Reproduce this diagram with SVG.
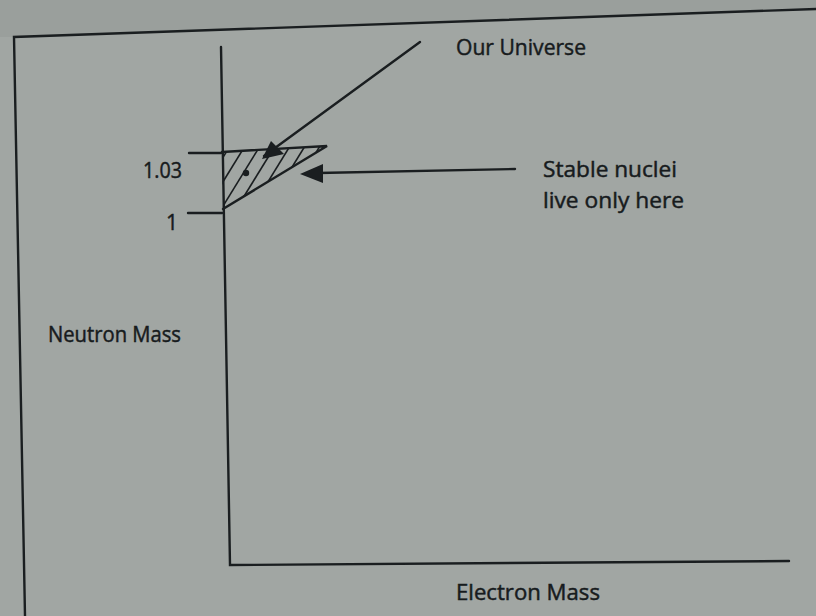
<svg xmlns="http://www.w3.org/2000/svg" width="816" height="616" viewBox="0 0 816 616">
<style>
.ln{stroke:#1a1e20;stroke-width:2.4;fill:none;stroke-linecap:round}
.hl{stroke:#1a1e20;stroke-width:1.6}
.t{font-family:"Open Sans","Liberation Sans",sans-serif;font-size:21px;fill:#171b1d;stroke:#171b1d;stroke-width:0.45}
</style>
<defs>
<clipPath id="tri"><polygon points="222,152 327,146 223,209"/></clipPath>
</defs>
<rect width="816" height="616" fill="#a1a6a3"/>
<polygon points="0,0 816,0 816,9 14,37 0,37" fill="#9a9f9c"/>
<g id="frame">
<path class="ln" d="M816,9 L14,37 L25,616"/>
</g>
<g id="axes">
<path class="ln" d="M221,47 L230,565 L789,561"/>
<path class="ln" d="M189,153 L221,153"/>
<path class="ln" d="M188,213 L222,213"/>
</g>
<g id="region">
<g clip-path="url(#tri)">
<line class="hl" x1="215" y1="146" x2="175" y2="211"/>
<line class="hl" x1="230" y1="146" x2="190" y2="211"/>
<line class="hl" x1="245" y1="146" x2="205" y2="211"/>
<line class="hl" x1="260" y1="146" x2="220" y2="211"/>
<line class="hl" x1="275" y1="146" x2="235" y2="211"/>
<line class="hl" x1="290" y1="146" x2="250" y2="211"/>
<line class="hl" x1="305" y1="146" x2="265" y2="211"/>
<line class="hl" x1="320" y1="146" x2="280" y2="211"/>
</g>
<path class="ln" d="M222,152 L327,146 L223,209"/>
<circle cx="246" cy="173" r="3.2" fill="#1a1e20"/>
</g>
<g id="connectors">
<path class="ln" d="M420,42 L264,156"/>
<path d="M262,159 L271,141 L284,154 Z" fill="#1a1e20"/>
<path class="ln" d="M515,169 L318,173"/>
<path d="M300,174 L323,164 L323,183 Z" fill="#1a1e20"/>
</g>
<g id="labels">
<text class="t" x="456" y="55" textLength="130" lengthAdjust="spacingAndGlyphs">Our Universe</text>
<text class="t" x="543" y="177" textLength="134" lengthAdjust="spacingAndGlyphs">Stable nuclei</text>
<text class="t" x="543" y="208" textLength="141" lengthAdjust="spacingAndGlyphs">live only here</text>
<text class="t" x="143" y="178" textLength="39" lengthAdjust="spacingAndGlyphs">1.03</text>
<text class="t" x="166" y="230">1</text>
<text class="t" x="48" y="342" textLength="133" lengthAdjust="spacingAndGlyphs">Neutron Mass</text>
<text class="t" x="456" y="600" textLength="144" lengthAdjust="spacingAndGlyphs">Electron Mass</text>
</g>
</svg>
